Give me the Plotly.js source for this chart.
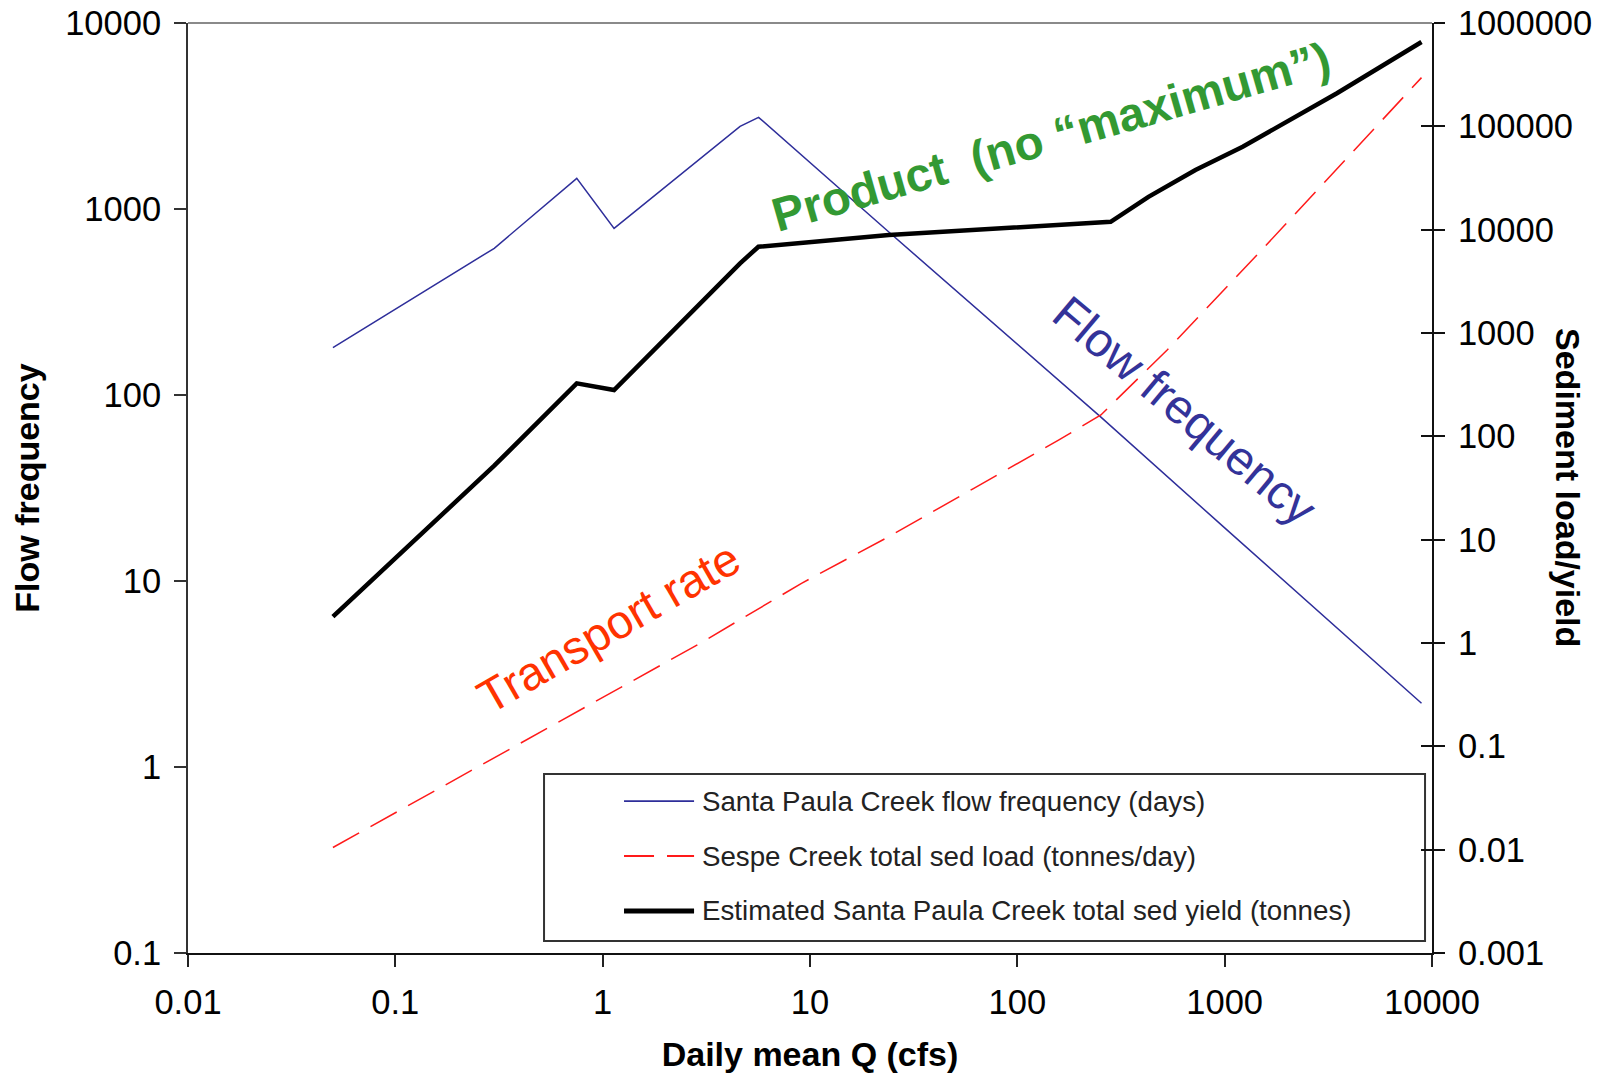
<!DOCTYPE html>
<html><head><meta charset="utf-8">
<script src="https://cdn.plot.ly/plotly-3.0.1.min.js"></script>
<style>html,body{margin:0;padding:0;background:#fff;} #chart{width:1611px;height:1075px;}</style>
</head><body><div id="chart"></div>
<script>
// Santa Paula Creek flow frequency (days) - left axis
const flowQ    = [0.05, 0.3, 0.75, 1.135, 4.6, 5.65, 24, 253, 1000, 8900];
const flowDays = [180, 615, 1462, 787, 2780, 3110, 752, 76, 19.3, 2.2];

// Sespe Creek total sed load (tonnes/day) - right axis
const loadQ    = [0.05, 2.95, 9.1, 24, 61.7, 158, 253, 528, 1507, 3670, 8900];
const loadT    = [0.0105, 0.993, 3.78, 10.7, 31.4, 92, 161, 684, 6350, 43900, 296000];

// Estimated Santa Paula Creek total sed yield (tonnes) - right axis
const yieldQ   = [0.05, 0.3, 0.75, 1.135, 4.6, 5.64, 24, 282, 429, 723, 1222, 2065, 3480, 8900];
const yieldT   = [1.8, 52, 326, 281, 4720, 6840, 8870, 11900, 20800, 37800, 63500, 115000, 209000, 655000];

const seriesNames = [
  'Santa Paula Creek flow frequency (days)',
  'Sespe Creek total sed load (tonnes/day)',
  'Estimated Santa Paula Creek total sed yield (tonnes)'
];

const xTicks = [0.01, 0.1, 1, 10, 100, 1000, 10000];
const xTickText = ['0.01', '0.1', '1', '10', '100', '1000', '10000'];
const yLeftTicks = [0.1, 1, 10, 100, 1000, 10000];
const yLeftText = ['0.1', '1', '10', '100', '1000', '10000'];
const yRightTicks = [0.001, 0.01, 0.1, 1, 10, 100, 1000, 10000, 100000, 1000000];
const yRightText = ['0.001', '0.01', '0.1', '1', '10', '100', '1000', '10000', '100000', '1000000'];

const FONT = 'Arial, "Liberation Sans", sans-serif';
const BLUE = '#2e2e9a', RED = '#ff1a1a', BLACK = '#000000';
const TICKSIZE = 34.5, TITLESIZE = 34;

const traces = [
  {x: flowQ, y: flowDays, name: seriesNames[0], type: 'scatter', mode: 'lines',
   line: {color: BLUE, width: 1.5}, yaxis: 'y'},
  {x: loadQ, y: loadT, name: seriesNames[1], type: 'scatter', mode: 'lines',
   line: {color: RED, width: 1.5, dash: '30px,13px'}, yaxis: 'y2'},
  {x: yieldQ, y: yieldT, name: seriesNames[2], type: 'scatter', mode: 'lines',
   line: {color: BLACK, width: 4.5}, yaxis: 'y2'},
  {x: [null], y: [null], yaxis: 'y3', type: 'scatter', mode: 'lines', showlegend: false, hoverinfo: 'skip'}
];

// legend geometry (paper coords)
const legRows = [0.1634, 0.1043, 0.0452];
const legLineX = [0.3505, 0.4068];
const legTextX = 0.4115;
const legStyles = [
  {color: BLUE, width: 1.8, dash: 'solid'},
  {color: RED, width: 1.8, dash: '30px,13px'},
  {color: BLACK, width: 5, dash: 'solid'}
];

const shapes = [
  {type: 'line', xref: 'paper', yref: 'paper', x0: 0, x1: 1, y0: 1, y1: 1, line: {color: '#8a8a8a', width: 2}},
  {type: 'rect', xref: 'paper', yref: 'paper', x0: 0.2862, x1: 0.9944, y0: 0.0129, y1: 0.1925,
   line: {color: '#333', width: 2}, fillcolor: 'rgba(255,255,255,1)', layer: 'below'}
];
legRows.forEach((r, i) => {
  shapes.push({type: 'line', xref: 'paper', yref: 'paper', x0: legLineX[0], x1: legLineX[1], y0: r, y1: r,
    line: legStyles[i]});
});

const annotations = [
  {text: '<b>Sediment load/yield</b>', xref: 'paper', yref: 'paper', x: 1.1093, y: 0.5,
   textangle: 90, showarrow: false, xanchor: 'center', yanchor: 'middle', font: {family: FONT, size: TITLESIZE, color: '#000'}},
  {text: '<b>Product  (no \u201cmaximum\u201d)</b>', xref: 'paper', yref: 'paper', x: 0.694, y: 0.878,
   textangle: -16, showarrow: false, xanchor: 'center', yanchor: 'middle', font: {family: FONT, size: 47.5, color: '#339933'}},
  {text: 'Flow frequency', xref: 'paper', yref: 'paper', x: 0.801, y: 0.583,
   textangle: 40, showarrow: false, xanchor: 'center', yanchor: 'middle', font: {family: FONT, size: 48, color: '#333399'}},
  {text: 'Transport rate', xref: 'paper', yref: 'paper', x: 0.338, y: 0.350,
   textangle: -30, showarrow: false, xanchor: 'center', yanchor: 'middle', font: {family: FONT, size: 47, color: '#ff3300'}}
];
legRows.forEach((r, i) => {
  annotations.push({text: seriesNames[i], xref: 'paper', yref: 'paper', x: legTextX, y: r,
    showarrow: false, xanchor: 'left', yanchor: 'middle', font: {family: FONT, size: 27.7, color: '#222'}});
});

const layout = {
  width: 1611, height: 1075,
  margin: {l: 188, r: 179, t: 23, b: 122, pad: 0},
  paper_bgcolor: '#fff', plot_bgcolor: '#fff',
  showlegend: false,
  font: {family: FONT, size: TICKSIZE, color: '#000'},
  xaxis: {
    type: 'log', range: [-2, 4], tickmode: 'array', tickvals: xTicks, ticktext: xTickText,
    ticks: 'outside', ticklen: 12, tickwidth: 2, tickcolor: '#222',
    showline: true, linecolor: '#111', linewidth: 2, showgrid: false, zeroline: false,
    tickfont: {size: TICKSIZE}, ticklabelstandoff: 6,
    title: {text: '<b>Daily mean Q (cfs)</b>', font: {size: TITLESIZE}, standoff: 22}
  },
  yaxis: {
    type: 'log', range: [-1, 4], tickmode: 'array', tickvals: yLeftTicks, ticktext: yLeftText,
    ticks: 'outside', ticklen: 12, tickwidth: 2, tickcolor: '#333',
    showline: true, linecolor: '#333', linewidth: 2, showgrid: false, zeroline: false,
    tickfont: {size: TICKSIZE}, ticklabelstandoff: 6,
    title: {text: '<b>Flow frequency</b>', font: {size: TITLESIZE}, standoff: 15}
  },
  yaxis2: {
    type: 'log', range: [-3, 6], overlaying: 'y', side: 'right', tickmode: 'array',
    tickvals: yRightTicks, ticktext: yRightText,
    ticks: 'outside', ticklen: 11, tickwidth: 2, tickcolor: '#111',
    showline: true, linecolor: '#111', linewidth: 2, showgrid: false, zeroline: false,
    tickfont: {size: TICKSIZE}, ticklabelstandoff: 6
  },
  yaxis3: {
    type: 'log', range: [-3, 6], overlaying: 'y', side: 'right', tickmode: 'array',
    tickvals: yRightTicks, ticks: 'inside', ticklen: 11, tickwidth: 2, tickcolor: '#111',
    showticklabels: false, showline: false, showgrid: false, zeroline: false
  },
  shapes: shapes,
  annotations: annotations
};

Plotly.newPlot('chart', traces, layout, {displayModeBar: false, staticPlot: true});
</script>
</body></html>
